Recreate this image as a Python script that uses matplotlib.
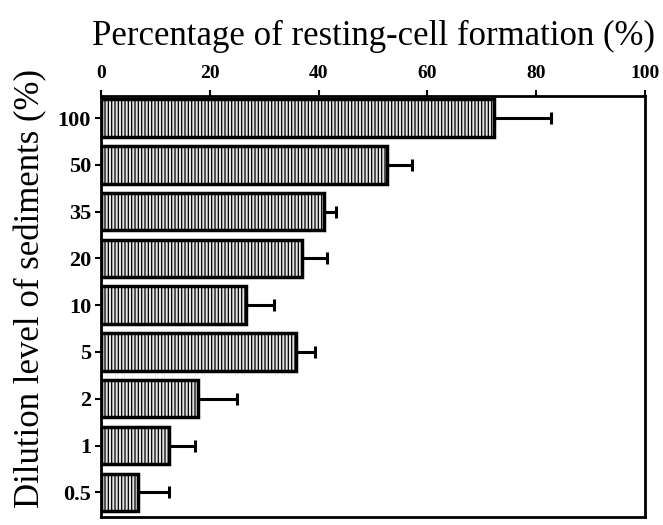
import matplotlib
matplotlib.use("Agg")
import matplotlib.pyplot as plt
import numpy as np

# dilution levels (top to bottom) and read-off values
dilution = ["100", "50", "35", "20", "10", "5", "2", "1", "0.5"]
formation = [72.2, 52.6, 41.0, 37.0, 26.6, 35.9, 17.8, 12.5, 6.8]
upper_err = [10.6, 4.5, 2.3, 4.6, 5.3, 3.5, 7.3, 4.8, 5.8]

plt.rcParams['font.family'] = ['Liberation Serif', 'DejaVu Serif']
plt.rcParams['hatch.linewidth'] = 0.9
plt.rcParams['hatch.color'] = '#444444'

fig = plt.figure(figsize=(6.63, 5.25), dpi=100)
ax = fig.add_axes([0.152, 0.015, 0.821, 0.802])

pos = np.arange(len(dilution))[::-1]
ax.barh(pos, formation, height=0.8, color='#e3e3e3', edgecolor='black',
        linewidth=2.5, hatch='|||||', zorder=2)
ax.errorbar(formation, pos, xerr=[np.zeros(len(upper_err)), upper_err],
            fmt='none', ecolor='black', elinewidth=2.2, capsize=4,
            capthick=2.2, zorder=1)

ax.set_xlim(0, 100)
ax.set_ylim(-0.53, 8.47)
ax.set_xticks([0, 20, 40, 60, 80, 100])
ax.xaxis.tick_top()
ax.tick_params(axis='x', direction='out', length=4, width=1.5, pad=6,
               labelsize=14)
ax.tick_params(axis='y', direction='out', length=4, width=1.5, pad=3,
               labelsize=16)
ax.set_yticks(pos)
ax.set_yticklabels(dilution)
for lbl in ax.get_xticklabels() + ax.get_yticklabels():
    lbl.set_fontweight('bold')
for sp in ax.spines.values():
    sp.set_linewidth(2)

fig.text(0.563, 0.93, 'Percentage of resting-cell formation (%)',
         ha='center', va='center', fontsize=25)
fig.text(0.047, 0.45, 'Dilution level of sediments (%)', ha='center',
         va='center', rotation=90, fontsize=25)

fig.savefig('out.png', dpi=100)
